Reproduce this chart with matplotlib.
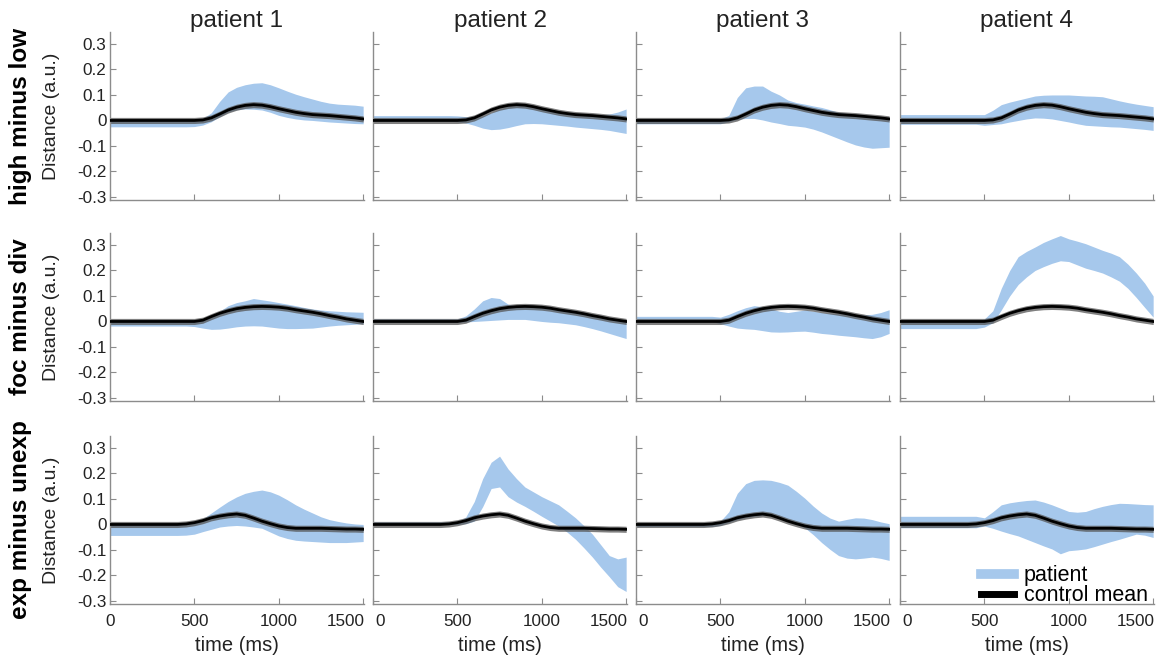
import matplotlib
matplotlib.use("Agg")
from matplotlib import pyplot as plt
from matplotlib.lines import Line2D
import matplotlib.transforms as mtransforms
import numpy as np

plt.rcParams["font.family"] = ["Liberation Sans", "DejaVu Sans"]
plt.rcParams["axes.unicode_minus"] = False

# time axis (ms), 50 ms steps
time_ms = list(range(0, 1501, 50))

row_labels = ["high minus low", "foc minus div", "exp minus unexp"]
col_titles = ["patient 1", "patient 2", "patient 3", "patient 4"]
x_ticks = [0, 500, 1000, 1500]
y_ticks = [-0.3, -0.2, -0.1, 0, 0.1, 0.2, 0.3]
y_tick_labels = ["-0.3", "-0.2", "-0.1", "0", "0.1", "0.2", "0.3"]

# control means, one per row
ctrl_hml = [0, 0, 0, 0, 0, 0, 0, 0, 0, 0,
            0.0, 0.002, 0.01, 0.025, 0.041, 0.052, 0.059, 0.062, 0.06, 0.054, 0.046,
            0.039, 0.032, 0.027, 0.023, 0.021, 0.019, 0.016, 0.013, 0.01, 0.006]
ctrl_fmd = [0, 0, 0, 0, 0, 0, 0, 0, 0, 0,
            0.0, 0.005, 0.019, 0.032, 0.042, 0.05, 0.055, 0.058, 0.059, 0.058, 0.056,
            0.052, 0.046, 0.041, 0.036, 0.03, 0.023, 0.017, 0.01, 0.005, 0.0]
ctrl_exp = [0, 0, 0, 0, 0, 0, 0, 0, 0, 0.002,
            0.007, 0.015, 0.026, 0.033, 0.038, 0.041, 0.036, 0.025, 0.013, 0.003, -0.006,
            -0.012, -0.015, -0.015, -0.015, -0.015, -0.016, -0.017, -0.018, -0.018, -0.019]

# patient bands: high minus low
hml_p1_hi = [0, 0, 0, 0, 0, 0, 0, 0, 0, 0,
             0.0, 0.008, 0.03, 0.075, 0.112, 0.13, 0.14, 0.146, 0.148, 0.14, 0.128,
             0.115, 0.103, 0.093, 0.084, 0.075, 0.068, 0.064, 0.062, 0.06, 0.056]
hml_p1_lo = [-0.025, -0.025, -0.025, -0.025, -0.025, -0.025, -0.025, -0.025, -0.025, -0.025,
             -0.024, -0.018, -0.005, 0.015, 0.033, 0.042, 0.045, 0.044, 0.041, 0.032, 0.02,
             0.012, 0.006, 0.002, 0.0, -0.003, -0.006, -0.008, -0.01, -0.012, -0.013]
hml_p2_hi = [0.019, 0.019, 0.019, 0.019, 0.019, 0.019, 0.019, 0.019, 0.019, 0.019,
             0.018, 0.015, 0.012, 0.018, 0.03, 0.045, 0.055, 0.059, 0.058, 0.052, 0.045,
             0.038, 0.032, 0.026, 0.022, 0.02, 0.02, 0.022, 0.025, 0.033, 0.045]
hml_p2_lo = [-0.003, -0.003, -0.003, -0.003, -0.003, -0.003, -0.003, -0.003, -0.003, -0.003,
             -0.005, -0.01, -0.019, -0.03, -0.036, -0.034, -0.028, -0.02, -0.013, -0.012, -0.013,
             -0.016, -0.019, -0.022, -0.026, -0.029, -0.032, -0.035, -0.039, -0.045, -0.051]
hml_p3_hi = [0.006, 0.006, 0.006, 0.006, 0.006, 0.006, 0.006, 0.006, 0.006, 0.006,
             0.006, 0.02, 0.09, 0.128, 0.135, 0.135, 0.115, 0.1, 0.08, 0.07, 0.064,
             0.057, 0.051, 0.042, 0.032, 0.027, 0.023, 0.019, 0.015, 0.012, 0.009]
hml_p3_lo = [-0.013, -0.013, -0.013, -0.013, -0.013, -0.013, -0.013, -0.013, -0.013, -0.013,
             -0.013, -0.005, 0.004, 0.008, 0.008, 0.002, -0.006, -0.012, -0.019, -0.022, -0.026,
             -0.034, -0.045, -0.058, -0.071, -0.084, -0.096, -0.104, -0.109, -0.107, -0.105]
hml_p4_hi = [0.023, 0.023, 0.023, 0.023, 0.023, 0.023, 0.023, 0.023, 0.023, 0.023,
             0.023, 0.04, 0.062, 0.072, 0.08, 0.088, 0.096, 0.099, 0.1, 0.1, 0.1,
             0.098, 0.096, 0.095, 0.093, 0.085, 0.077, 0.07, 0.064, 0.059, 0.054]
hml_p4_lo = [-0.015, -0.015, -0.015, -0.015, -0.015, -0.015, -0.015, -0.015, -0.015, -0.015,
             -0.019, -0.016, -0.013, -0.006, 0.0, 0.006, 0.01, 0.009, 0.006, 0.0, -0.006,
             -0.013, -0.019, -0.021, -0.023, -0.025, -0.026, -0.029, -0.032, -0.035, -0.039]

# patient bands: foc minus div
fmd_p1_hi = [0.006, 0.006, 0.006, 0.006, 0.006, 0.006, 0.006, 0.006, 0.006, 0.006,
             0.005, 0.008, 0.019, 0.04, 0.062, 0.074, 0.081, 0.09, 0.085, 0.08, 0.074,
             0.068, 0.062, 0.055, 0.049, 0.045, 0.042, 0.04, 0.038, 0.037, 0.036]
fmd_p1_lo = [-0.018, -0.018, -0.018, -0.018, -0.018, -0.018, -0.018, -0.018, -0.018, -0.018,
             -0.02, -0.026, -0.031, -0.03, -0.026, -0.021, -0.018, -0.017, -0.018, -0.022, -0.026,
             -0.028, -0.028, -0.027, -0.026, -0.022, -0.018, -0.015, -0.013, -0.011, -0.009]
fmd_p2_hi = [0.01, 0.01, 0.01, 0.01, 0.01, 0.01, 0.01, 0.01, 0.01, 0.01,
             0.01, 0.022, 0.049, 0.081, 0.094, 0.09, 0.068, 0.06, 0.058, 0.057, 0.055,
             0.05, 0.045, 0.04, 0.035, 0.028, 0.02, 0.015, 0.01, 0.005, 0.0]
fmd_p2_lo = [-0.003, -0.003, -0.003, -0.003, -0.003, -0.003, -0.003, -0.003, -0.003, -0.003,
             -0.003, -0.002, 0.0, 0.002, 0.004, 0.006, 0.008, 0.008, 0.008, 0.004, 0.0,
             -0.003, -0.005, -0.009, -0.013, -0.02, -0.028, -0.037, -0.047, -0.057, -0.067]
fmd_p3_hi = [0.02, 0.02, 0.02, 0.02, 0.02, 0.02, 0.02, 0.02, 0.02, 0.02,
             0.017, 0.028, 0.042, 0.054, 0.062, 0.058, 0.05, 0.04, 0.035, 0.04, 0.045,
             0.04, 0.035, 0.032, 0.03, 0.027, 0.025, 0.026, 0.028, 0.035, 0.046]
fmd_p3_lo = [0.0, 0.0, 0.0, 0.0, 0.0, 0.0, 0.0, 0.0, 0.0, 0.0,
             -0.009, -0.018, -0.026, -0.029, -0.031, -0.036, -0.041, -0.042, -0.041, -0.039, -0.038,
             -0.042, -0.047, -0.05, -0.054, -0.057, -0.06, -0.064, -0.067, -0.06, -0.047]
fmd_p4_hi = [0.0, 0.0, 0.0, 0.0, 0.0, 0.0, 0.0, 0.0, 0.0, 0.0,
             0.01, 0.042, 0.13, 0.2, 0.254, 0.275, 0.292, 0.31, 0.324, 0.337, 0.324,
             0.315, 0.305, 0.292, 0.279, 0.268, 0.254, 0.225, 0.19, 0.15, 0.1]
fmd_p4_lo = [-0.028, -0.028, -0.028, -0.028, -0.028, -0.028, -0.028, -0.028, -0.028, -0.028,
             -0.022, -0.005, 0.045, 0.1, 0.145, 0.175, 0.2, 0.215, 0.228, 0.238, 0.235,
             0.222, 0.209, 0.2, 0.19, 0.175, 0.158, 0.13, 0.094, 0.055, 0.017]

# patient bands: exp minus unexp
exp_p1_hi = [0.0, 0.0, 0.0, 0.0, 0.0, 0.0, 0.0, 0.0, 0.0, 0.0,
             0.006, 0.022, 0.045, 0.068, 0.09, 0.108, 0.122, 0.13, 0.135, 0.128, 0.115,
             0.097, 0.077, 0.06, 0.045, 0.03, 0.019, 0.012, 0.006, 0.002, 0.0]
exp_p1_lo = [-0.043, -0.043, -0.043, -0.043, -0.043, -0.043, -0.043, -0.043, -0.043, -0.042,
             -0.038, -0.028, -0.019, -0.01, -0.006, -0.004, -0.006, -0.01, -0.015, -0.03, -0.045,
             -0.055, -0.062, -0.065, -0.067, -0.069, -0.071, -0.071, -0.071, -0.069, -0.067]
exp_p2_hi = [0.01, 0.01, 0.01, 0.01, 0.01, 0.01, 0.01, 0.01, 0.01, 0.01,
             0.006, 0.03, 0.09, 0.18, 0.244, 0.268, 0.218, 0.18, 0.147, 0.128, 0.109,
             0.093, 0.077, 0.052, 0.026, -0.005, -0.038, -0.08, -0.122, -0.135, -0.128]
exp_p2_lo = [0.0, 0.0, 0.0, 0.0, 0.0, 0.0, 0.0, 0.0, 0.0, 0.0,
             0.0, 0.003, 0.013, 0.07, 0.141, 0.147, 0.109, 0.088, 0.071, 0.052, 0.032,
             0.013, -0.006, -0.03, -0.058, -0.092, -0.128, -0.168, -0.205, -0.244, -0.263]
exp_p3_hi = [0.0, 0.0, 0.0, 0.0, 0.0, 0.0, 0.0, 0.0, 0.0, 0.0,
             0.013, 0.05, 0.122, 0.16, 0.173, 0.175, 0.173, 0.165, 0.154, 0.13, 0.103,
             0.072, 0.045, 0.025, 0.013, 0.02, 0.026, 0.025, 0.019, 0.01, 0.003]
exp_p3_lo = [-0.008, -0.008, -0.008, -0.008, -0.008, -0.008, -0.008, -0.008, -0.008, -0.008,
             -0.004, 0.008, 0.019, 0.027, 0.032, 0.036, 0.036, 0.03, 0.02, 0.003, -0.013,
             -0.04, -0.071, -0.098, -0.122, -0.132, -0.135, -0.132, -0.128, -0.133, -0.141]
exp_p4_hi = [0.032, 0.032, 0.032, 0.032, 0.032, 0.032, 0.032, 0.032, 0.032, 0.032,
             0.026, 0.05, 0.077, 0.085, 0.09, 0.094, 0.096, 0.088, 0.077, 0.064, 0.051,
             0.048, 0.051, 0.062, 0.071, 0.078, 0.083, 0.082, 0.08, 0.078, 0.077]
exp_p4_lo = [-0.013, -0.013, -0.013, -0.013, -0.013, -0.013, -0.013, -0.013, -0.013, -0.013,
             -0.006, -0.015, -0.026, -0.036, -0.045, -0.058, -0.071, -0.084, -0.096, -0.115, -0.103,
             -0.1, -0.096, -0.087, -0.077, -0.067, -0.058, -0.048, -0.038, -0.042, -0.051]

controls = [ctrl_hml, ctrl_fmd, ctrl_exp]
bands = [
    [(hml_p1_lo, hml_p1_hi), (hml_p2_lo, hml_p2_hi), (hml_p3_lo, hml_p3_hi), (hml_p4_lo, hml_p4_hi)],
    [(fmd_p1_lo, fmd_p1_hi), (fmd_p2_lo, fmd_p2_hi), (fmd_p3_lo, fmd_p3_hi), (fmd_p4_lo, fmd_p4_hi)],
    [(exp_p1_lo, exp_p1_hi), (exp_p2_lo, exp_p2_hi), (exp_p3_lo, exp_p3_hi), (exp_p4_lo, exp_p4_hi)],
]

patient_color = "#a6c8ec"
spine_color = "#8c8c8c"
text_color = "#222222"
ctrl_sem = 0.012

W, H = 1164, 664
col_left = [110, 373, 636, 900]
row_top = [32, 233, 436]
ax_w, ax_h = 254, 168

fig = plt.figure(figsize=(W / 100, H / 100), dpi=100)
t = np.array(time_ms)

for r in range(3):
    ctrl = np.array(controls[r])
    for c in range(4):
        ax = fig.add_axes([col_left[c] / W, 1 - (row_top[r] + ax_h) / H, ax_w / W, ax_h / H])
        lo, hi = bands[r][c]
        ax.fill_between(t, lo, hi, color=patient_color, lw=0, zorder=1)
        ax.fill_between(t, ctrl - ctrl_sem, ctrl + ctrl_sem, color="#555555", alpha=0.75, lw=0, zorder=2)
        ax.plot(t, ctrl, color="black", lw=2, zorder=3)

        ax.set_xlim(0, 1505)
        ax.set_ylim(-0.312, 0.347)
        ax.set_xticks(x_ticks)
        ax.set_yticks(y_ticks)
        for side in ("top", "right"):
            ax.spines[side].set_visible(False)
        for side in ("left", "bottom"):
            ax.spines[side].set_color(spine_color)
            ax.spines[side].set_linewidth(1)
        ax.tick_params(direction="in", length=4, color=spine_color, labelsize=12.3,
                       labelcolor=text_color)
        ax.tick_params(axis="y", pad=2.5)
        ax.tick_params(axis="x", pad=7)

        if c == 0:
            ax.set_yticklabels(y_tick_labels)
            ax.set_ylabel("Distance (a.u.)", fontsize=14, color=text_color)
            ax.yaxis.set_label_coords(-0.195, 0.5)
        else:
            ax.set_yticklabels([])
        if r == 2:
            labels = ax.set_xticklabels([str(v) for v in x_ticks])
            if c > 0:
                labels[0].set_ha("left")
                labels[0].set_transform(labels[0].get_transform() +
                                        mtransforms.ScaledTranslation(2 / 100, 0, fig.dpi_scale_trans))
            labels[-1].set_ha("right")
            labels[-1].set_transform(labels[-1].get_transform() +
                                     mtransforms.ScaledTranslation(2 / 100, 0, fig.dpi_scale_trans))
            ax.set_xlabel("time (ms)", fontsize=14.5, color=text_color, labelpad=5)
        else:
            ax.set_xticklabels([])
        if r == 0:
            ax.set_title(col_titles[c], fontsize=17.5, color=text_color, pad=0)

        if r == 2 and c == 3:
            handles = [Line2D([], [], color=patient_color, lw=7),
                       Line2D([], [], color="black", lw=5)]
            ax.legend(handles, ["patient", "control mean"], loc="lower right",
                      frameon=False, fontsize=15.5, handlelength=1.55, handletextpad=0.45,
                      labelspacing=-0.05, borderaxespad=0, bbox_to_anchor=(1.01, -0.065))

    y_mid = 1 - (row_top[r] + ax_h / 2) / H
    fig.text(21 / W, y_mid, row_labels[r], rotation=90, ha="center", va="center",
             fontsize=17.5, fontweight="bold", color="black")

fig.savefig("out.png", dpi=100)
